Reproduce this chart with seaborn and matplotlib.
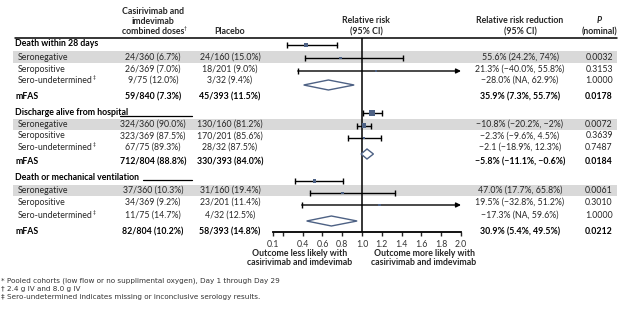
import numpy as np
import pandas as pd
import matplotlib.pyplot as plt
import seaborn as sns
from matplotlib.patches import Polygon

sns.set_style("white")
plt.rcParams['font.family'] = ['Lato', 'DejaVu Sans']

# table data
groups = ["Death within 28 days", "Discharge alive from hospital", "Death or mechanical ventilation"]
subgroups = ["Seronegative", "Seropositive", "Sero-undetermined"]
cas_counts = [
    ["24/360 (6.7%)", "26/369 (7.0%)", "9/75 (12.0%)", "59/840 (7.3%)"],
    ["324/360 (90.0%)", "323/369 (87.5%)", "67/75 (89.3%)", "712/804 (88.8%)"],
    ["37/360 (10.3%)", "34/369 (9.2%)", "11/75 (14.7%)", "82/804 (10.2%)"],
]
pla_counts = [
    ["24/160 (15.0%)", "18/201 (9.0%)", "3/32 (9.4%)", "45/393 (11.5%)"],
    ["130/160 (81.2%)", "170/201 (85.6%)", "28/32 (87.5%)", "330/393 (84.0%)"],
    ["31/160 (19.4%)", "23/201 (11.4%)", "4/32 (12.5%)", "58/393 (14.8%)"],
]
rrr_text = [
    ["55.6% (24.2%, 74%)", "21.3% (\u221240.0%, 55.8%)", "\u221228.0% (NA, 62.9%)", "35.9% (7.3%, 55.7%)"],
    ["\u221210.8% (\u221220.2%, \u22122%)", "\u22122.3% (\u22129.6%, 4.5%)", "\u22122.1 (\u221218.9%, 12.3%)", "\u22125.8% (\u221211.1%, \u22120.6%)"],
    ["47.0% (17.7%, 65.8%)", "19.5% (\u221232.8%, 51.2%)", "\u221217.3% (NA, 59.6%)", "30.9% (5.4%, 49.5%)"],
]
p_text = [
    ["0.0032", "0.3153", "1.0000", "0.0178"],
    ["0.0072", "0.3639", "0.7487", "0.0184"],
    ["0.0061", "0.3010", "1.0000", "0.0212"],
]
# relative risk estimates (inf = open upper bound)
rr_est = [[0.43, 0.78, 1.14, 0.66], [1.10, 1.02, 1.02, 1.05], [0.52, 0.80, 1.18, 0.69]]
rr_lo = [[0.24, 0.42, 0.35, 0.41], [1.01, 0.95, 0.86, 0.99], [0.32, 0.47, 0.39, 0.44]]
rr_hi = [[0.75, 1.41, np.inf, 0.92], [1.20, 1.09, 1.19, 1.115], [0.81, 1.33, np.inf, 0.95]]
weights = [[3, 2, 2], [5, 4, 2], [3, 2, 2]]
xticks = [0.1, 0.2, 0.4, 0.6, 0.8, 1.0, 1.2, 1.4, 1.6, 1.8, 2.0]
xticklabels = ["0.1", "", "0.4", "0.6", "0.8", "1.0", "1.2", "1.4", "1.6", "1.8", "2.0"]

# layout (pixel rows of the table: heading, 3 subgroups, mFAS)
text_y = [[44, 57, 69.5, 80.5, 96.5],
          [112.5, 124.5, 136, 147, 162],
          [177, 190.5, 202.5, 215.5, 231.5]]
mark_y = [[45, 58, 71, 85], [113, 125.5, 138, 154], [181, 193, 205, 221]]
band_col = "#d9d9d9"
mark_col = "#4d6184"
txt_col = "#262626"
fs = 6.3

fig = plt.figure(figsize=(6.29, 3.2), dpi=100)
tax = fig.add_axes([0, 0, 1, 1])
tax.set_xlim(0, 629)
tax.set_ylim(320, 0)
tax.axis("off")

# column headers
for y, s in zip([11, 22, 32], ["Casirivimab and", "imdevimab", "combined doses"]):
    t = tax.text(153, y, s, ha="center", va="center", fontsize=fs, fontweight="bold")
tax.annotate("\u2020", xy=(1, 0.85), xycoords=t, fontsize=3.6, va="center", ha="left")
tax.text(230, 32, "Placebo", ha="center", va="center", fontsize=fs, fontweight="bold")
tax.text(366, 20.7, "Relative risk", ha="center", va="center", fontsize=fs, fontweight="bold")
tax.text(366, 32.3, "(95% CI)", ha="center", va="center", fontsize=fs, fontweight="bold")
tax.text(520, 20.7, "Relative risk reduction", ha="center", va="center", fontsize=fs, fontweight="bold")
tax.text(520, 32.3, "(95% CI)", ha="center", va="center", fontsize=fs, fontweight="bold")
tax.text(599, 20.7, "P", ha="center", va="center", fontsize=fs, fontweight="bold", style="italic")
tax.text(599, 32.3, "(nominal)", ha="center", va="center", fontsize=fs, fontweight="bold")
tax.plot([15, 617], [37.7, 37.7], color="black", lw=1.1)

for g, gname in enumerate(groups):
    hy = text_y[g][0]
    tax.text(15, hy, gname, ha="left", va="center", fontsize=fs, fontweight="bold", color="black")
    ys = text_y[g][1:]
    tax.fill_between([13, 617], ys[0] - 5.8, ys[0] + 5.8, color=band_col, lw=0, zorder=0)
    for i in range(4):
        bold = i == 3
        w = "bold" if bold else "normal"
        c = "black" if bold else txt_col
        if bold:
            tax.text(15, ys[i], "mFAS", ha="left", va="center", fontsize=fs, fontweight=w, color=c)
        else:
            t = tax.text(18, ys[i], subgroups[i], ha="left", va="center", fontsize=fs, color=c)
            if i == 2:
                tax.annotate("\u2021", xy=(1, 0.8), xycoords=t, fontsize=3.6, va="center", ha="left", color=c)
        tax.text(153, ys[i], cas_counts[g][i], ha="center", va="center", fontsize=fs, fontweight=w, color=c)
        tax.text(230, ys[i], pla_counts[g][i], ha="center", va="center", fontsize=fs, fontweight=w, color=c)
        tax.text(520, ys[i], rrr_text[g][i], ha="center", va="center", fontsize=fs, fontweight=w, color=c)
        tax.text(599, ys[i], p_text[g][i], ha="center", va="center", fontsize=fs, fontweight=w, color=c)

# stray underline segments after the section headings
tax.plot([120, 192], [116, 116], color="black", lw=0.9)
tax.plot([143, 192], [180, 180], color="black", lw=0.9)

tax.text(300, 253.5, "Outcome less likely with", ha="center", va="center", fontsize=fs, fontweight="bold")
tax.text(300, 262.5, "casirivimab and imdevimab", ha="center", va="center", fontsize=fs, fontweight="bold")
tax.text(424, 253.5, "Outcome more likely with", ha="center", va="center", fontsize=fs, fontweight="bold")
tax.text(424, 262.5, "casirivimab and imdevimab", ha="center", va="center", fontsize=fs, fontweight="bold")

foot = ["* Pooled cohorts (low flow or no supplimental oxygen), Day 1 through Day 29",
        "\u2020 2.4 g IV and 8.0 g IV",
        "\u2021 Sero-undetermined indicates missing or inconclusive serology results."]
for y, s in zip([280.5, 288.5, 296.8], foot):
    tax.text(1, y, s, ha="left", va="center", fontsize=5.2, color="#333333", family="DejaVu Sans")

# forest plot axes: x = relative risk, y = pixel rows
ax = fig.add_axes([273 / 629, 1 - 232 / 320, 188 / 629, (232 - 37.7) / 320])
ax.set_facecolor("none")
ax.set_xlim(0.1, 2.0)
ax.set_ylim(232, 37.7)
ax.axvline(1.0, color="black", lw=1.1, zorder=1)

pts = []
for g in range(3):
    for i in range(3):
        y = mark_y[g][i]
        lo, hi = rr_lo[g][i], rr_hi[g][i]
        if np.isinf(hi):
            ax.annotate("", xy=(2.0, y), xytext=(lo, y),
                        arrowprops=dict(arrowstyle="-|>", lw=1.0, color="black", mutation_scale=7,
                                        shrinkA=0, shrinkB=0))
            ax.plot([lo], [y], marker="|", color="black", ms=4, mew=1)
        else:
            ax.plot([lo, hi], [y, y], color="black", lw=1.0)
            ax.plot([lo, hi], [y, y], ls="none", marker="|", color="black", ms=4, mew=1)
        pts.append({"rr": rr_est[g][i], "y": y, "w": weights[g][i]})
    # pooled diamond
    y = mark_y[g][3]
    e, lo, hi = rr_est[g][3], rr_lo[g][3], rr_hi[g][3]
    ax.add_patch(Polygon([(lo, y), (e, y - 5), (hi, y), (e, y + 5)], closed=True,
                         facecolor="white", edgecolor=mark_col, lw=1.0, zorder=3))

pts = pd.DataFrame(pts)
sns.scatterplot(data=pts, x="rr", y="y", size="w", sizes=(4, 14), marker="s",
                color=mark_col, edgecolor="none", legend=False, zorder=4, ax=ax)

ax.set_xticks(xticks)
ax.set_xticklabels(xticklabels)
ax.set_yticks([])
ax.set_xlabel("")
ax.set_ylabel("")
for s in ["left", "right", "top"]:
    ax.spines[s].set_visible(False)
ax.spines["bottom"].set_linewidth(1.3)
ax.spines["bottom"].set_color("black")
ax.tick_params(axis="x", direction="out", length=3, width=1, pad=2.5, labelsize=fs,
               labelcolor="#333333", bottom=True)

fig.savefig("out.png", dpi=100)
